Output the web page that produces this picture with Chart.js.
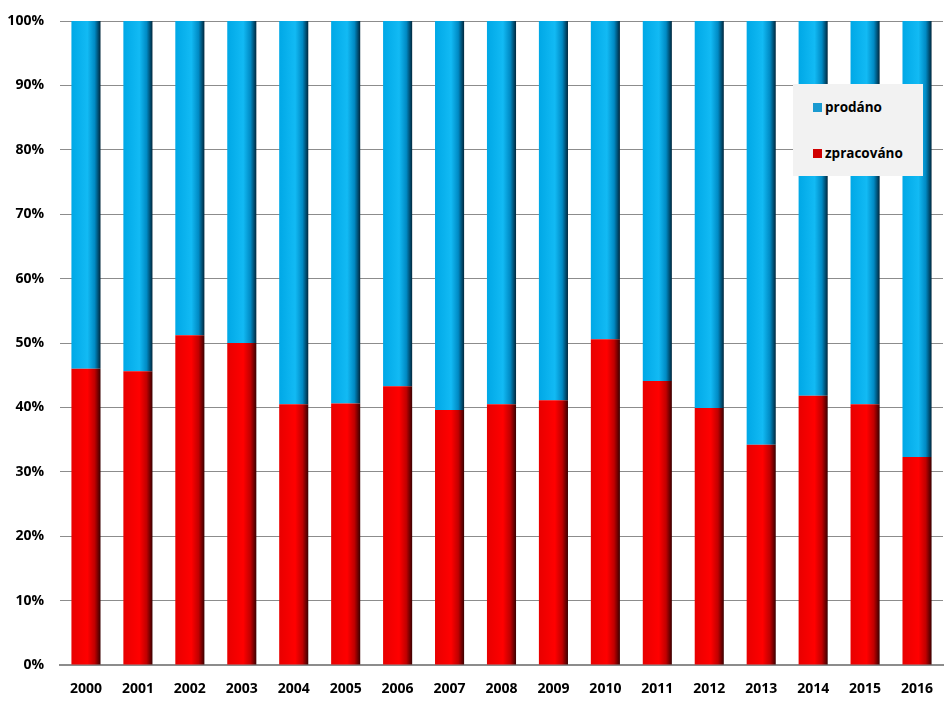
<!DOCTYPE html>
<html><head><meta charset="utf-8">
<script src="https://cdn.jsdelivr.net/npm/chart.js@4/dist/chart.umd.min.js"></script>
<style>
html,body{margin:0;padding:0;background:#fff;}
#wrap{position:relative;width:952px;height:703px;}
#legend{position:absolute;left:793px;top:84px;width:130px;height:92px;background:#f2f2f2;font-family:"Open Sans",sans-serif;font-weight:bold;font-size:13.5px;color:#000;}
.li{position:absolute;left:20px;display:flex;align-items:center;height:20px;}
.sw{width:9px;height:9px;margin-right:3px;}
</style></head>
<body><div id="wrap"><canvas id="c" width="952" height="703"></canvas><div id="legend"></div></div>
<script>
const years = ["2000","2001","2002","2003","2004","2005","2006","2007","2008","2009","2010","2011","2012","2013","2014","2015","2016"];
const zpracovano = [46.0,45.6,51.2,50.0,40.5,40.6,43.3,39.6,40.5,41.1,50.6,44.1,39.9,34.2,41.8,40.5,32.3];
const prodano = zpracovano.map(v => +(100 - v).toFixed(1));
const seriesLabels = ["zpracováno","prodáno"];
const yTicks = [0,10,20,30,40,50,60,70,80,90,100];

function barGrad(stops){
  return function(ctx){
    const chart = ctx.chart;
    const x = chart.scales.x;
    if(!chart.chartArea || !x || ctx.dataIndex === undefined) return stops[1];
    const cx = x.getPixelForValue(ctx.dataIndex);
    const w = (x.width / years.length) * 0.56;
    if(!isFinite(cx) || !isFinite(w) || w<=0) return stops[1];
    const g = chart.ctx.createLinearGradient(cx - w/2, 0, cx + w/2, 0);
    g.addColorStop(0, stops[0]);
    g.addColorStop(0.55, stops[1]);
    g.addColorStop(0.8, stops[2]);
    g.addColorStop(1, stops[3]);
    return g;
  };
}
const redStops = ["#e80000","#ff0000","#c00000","#3a0000"];
const blueStops = ["#00a8e6","#12baf4","#008ac4","#00273d"];

// legend (from dataset labels)
const leg = document.getElementById('legend');
const legItems = [{label:seriesLabels[1],color:'#1a9ad0',top:13},{label:seriesLabels[0],color:'#d00000',top:59}];
legItems.forEach(it=>{
  const d=document.createElement('div');d.className='li';d.style.top=it.top+'px';
  const s=document.createElement('div');s.className='sw';s.style.background=it.color;
  const t=document.createElement('span');t.textContent=it.label;
  d.appendChild(s);d.appendChild(t);leg.appendChild(d);
});

const chart = new Chart(document.getElementById('c'), {
  type: 'bar',
  data: {
    labels: years,
    datasets: [
      {label: seriesLabels[0], data: zpracovano, backgroundColor: barGrad(redStops), borderWidth:0, barPercentage:0.56, categoryPercentage:1},
      {label: seriesLabels[1], data: prodano, backgroundColor: barGrad(blueStops), borderWidth:0, barPercentage:0.56, categoryPercentage:1}
    ]
  },
  options: {
    responsive:false, animation:false,
    layout:{padding:{top:21,right:9,left:0,bottom:0}},
    plugins:{legend:{display:false},tooltip:{enabled:false}},
    scales:{
      x:{stacked:true,
         afterFit:(s)=>{s.height=38;s.paddingLeft=0;s.paddingRight=0;},
         grid:{display:false,drawTicks:false},
         border:{color:'#8c8c8c',width:2},
         ticks:{color:'#000',font:{family:'"Open Sans", sans-serif',weight:'bold',size:14},padding:16}},
      y:{stacked:true,min:0,max:100,
         afterBuildTicks:(s)=>{s.ticks = yTicks.map(v=>({value:v}));},
         afterFit:(s)=>{s.width=60;s.paddingTop=0;s.paddingBottom=0;},
         grid:{color:'#8c8c8c',lineWidth:1,drawTicks:false},
         border:{display:false},
         ticks:{color:'#000',font:{family:'"Open Sans", sans-serif',weight:'bold',size:14},padding:16,callback:v=>v+'%'}}
    }
  }
});
chart.update();
</script></body></html>
